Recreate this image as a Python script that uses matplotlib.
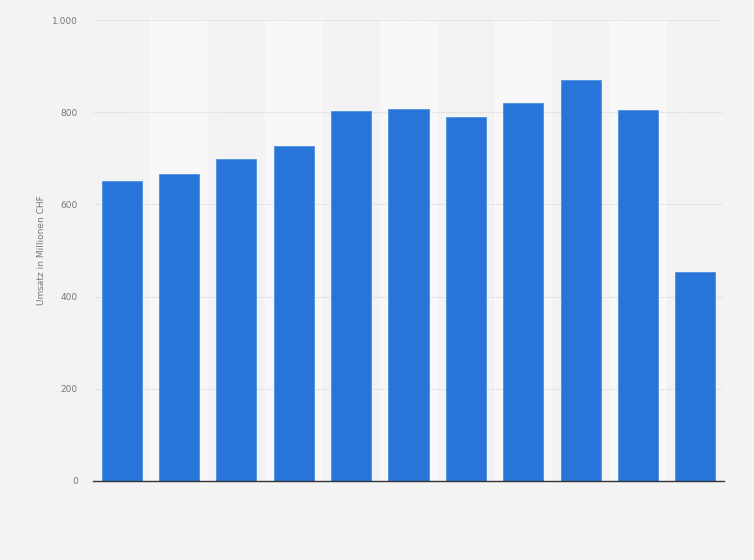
import matplotlib
matplotlib.use('Agg')
import matplotlib.pyplot as plt
from matplotlib.ticker import FuncFormatter

# Umsatz in Millionen CHF (no x labels shown)
values = [651, 666, 698, 727, 803, 807, 790, 820, 870, 805, 453]
yticks = [0, 200, 400, 600, 800, 1000]

fig = plt.figure(figsize=(7.54, 5.6), dpi=100, facecolor='#f3f3f3')
ax = fig.add_axes([93/754, 79/560, 631/754, 461/560])
ax.set_facecolor('#f3f3f3')

x = list(range(len(values)))
for i in x:
    if i % 2 == 1:
        ax.axvspan(i - 0.5, i + 0.5, color='#f8f8f8', zorder=0, lw=0)

for t in yticks[1:]:
    ax.axhline(t, color='#cfcfcf', linestyle=(0, (1, 1.5)), linewidth=0.8, zorder=1)

ax.bar(x, values, width=0.7, color='#2775d9', edgecolor='#4d8fe3', linewidth=0.6, zorder=2)

ax.set_xlim(-0.5, len(values) - 0.5)
ax.set_ylim(0, 1000)
ax.set_yticks(yticks)
ax.yaxis.set_major_formatter(FuncFormatter(lambda v, p: f'{int(v):,}'.replace(',', '.')))
ax.tick_params(axis='y', length=0, pad=11, labelsize=6.5, labelcolor='#777777')
ax.set_xticks([])
for s in ['top', 'right', 'left']:
    ax.spines[s].set_visible(False)
ax.spines['bottom'].set_color('#333333')
ax.spines['bottom'].set_linewidth(1.0)
ax.spines['bottom'].set_zorder(3)

ax.set_ylabel('Umsatz in Millionen CHF', fontsize=6.5, color='#777777')
ax.yaxis.set_label_coords(-47/631, 0.5)

fig.savefig('out.png', dpi=100, facecolor=fig.get_facecolor())
